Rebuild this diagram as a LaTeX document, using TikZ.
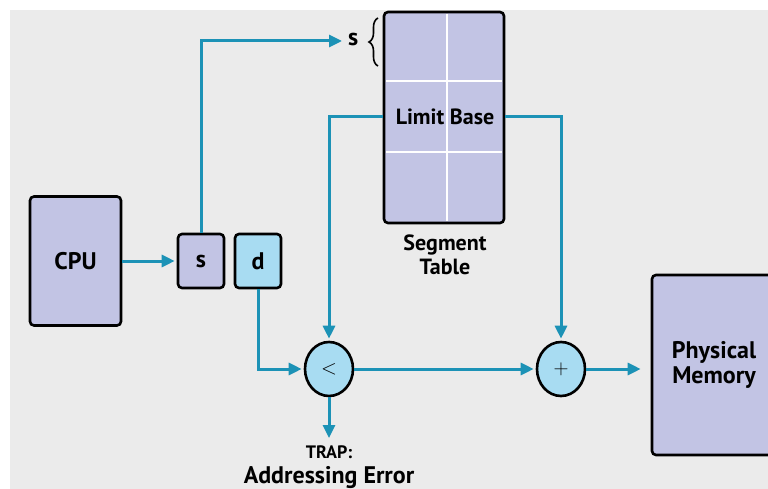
\documentclass[tikz,border=0pt]{standalone}
\usepackage{fontspec}
\setmainfont{PT Sans}
\usetikzlibrary{arrows.meta,shapes.geometric,decorations.pathreplacing}

\definecolor{panelbg}{RGB}{235,235,235}
\definecolor{lavender}{RGB}{194,196,228}
\definecolor{skyfill}{RGB}{168,220,242}
\definecolor{wire}{RGB}{28,146,182}

\tikzset{
  box/.style={draw=black, line width=2.6pt, rounded corners=4pt, fill=lavender,
              inner sep=0pt, font=\fontsize{24}{27}\selectfont\bfseries},
  op/.style={ellipse, draw=black, line width=2.6pt, fill=skyfill,
             minimum width=48pt, minimum height=54pt, inner sep=0pt,
             font=\fontsize{22}{24}\selectfont},
  wireline/.style={draw=wire, line width=3pt},
  flow/.style={wireline, -{Triangle[length=13pt,width=12pt]}},
  label/.style={font=\fontsize{22}{26}\selectfont\bfseries, inner sep=0pt},
}

\begin{document}
\begin{tikzpicture}[x=1pt,y=-1pt]
  \clip (0,0) rectangle (768,489);
  \fill[panelbg] (10,10) rectangle (768,489);

  % processor and logical address fields
  \node[box, minimum width=91pt, minimum height=129pt] (cpu) at (75.5,261) {CPU};
  \node[box, minimum width=46pt, minimum height=54pt] (s) at (201,261) {s};
  \node[box, fill=skyfill, minimum width=46pt, minimum height=54pt] (d) at (258,261) {d};

  % segment table with its grid
  \node[box, minimum width=120pt, minimum height=211pt] (table) at (444,117.5) {};
  \draw[white, line width=2.2pt] (386,81) -- (502,81) (386,152) -- (502,152)
        (447,14) -- (447,221);
  \node[label] (lb) at (445,117) {Limit Base};
  \node[label, align=center] (segl) at (445,255) {Segment\\[-2pt]Table};

  % segment number index with brace
  \coordinate (sidx) at (342,41);
  \node[label, font=\fontsize{24}{26}\selectfont\bfseries, anchor=west] (slab) at (348,40) {s};
  \draw[line width=1.6pt, decorate, decoration={brace, amplitude=9pt}]
        (378,66) -- (378,18);

  % comparator, adder and memory
  \node[op] (cmp) at (329,369) {$<$};
  \node[op] (add) at (561,369) {$+$};
  \node[box, minimum width=124pt, minimum height=180pt, align=center] (mem) at (714,365)
        {Physical\\[-2pt]Memory};

  % trap output
  \node[font=\fontsize{18}{22}\selectfont\bfseries, inner sep=0pt, anchor=base] (trap) at (329,458) {TRAP:};
  \node[font=\fontsize{24}{28}\selectfont\bfseries, inner sep=0pt, anchor=base] (err) at (329,483) {Addressing Error};

  % connectors
  \draw[flow, shorten >=2pt] (cpu.east) -- (s.west);
  \draw[flow] (s.north) |- (sidx);
  \draw[flow, shorten >=2pt] (table.west |- lb) -| (cmp.north);
  \draw[flow, shorten >=2pt] (table.east |- lb) -| (add.north);
  \draw[flow, shorten >=2pt] (d.south) |- (cmp.west);
  \draw[flow, shorten >=2pt] (cmp.east) -- (add.west);
  \draw[flow, shorten >=10pt] (add.east) -- (add.east -| mem.west);
  \draw[flow, shorten >=7pt] (cmp.south) -- (trap.north);
\end{tikzpicture}
\end{document}
